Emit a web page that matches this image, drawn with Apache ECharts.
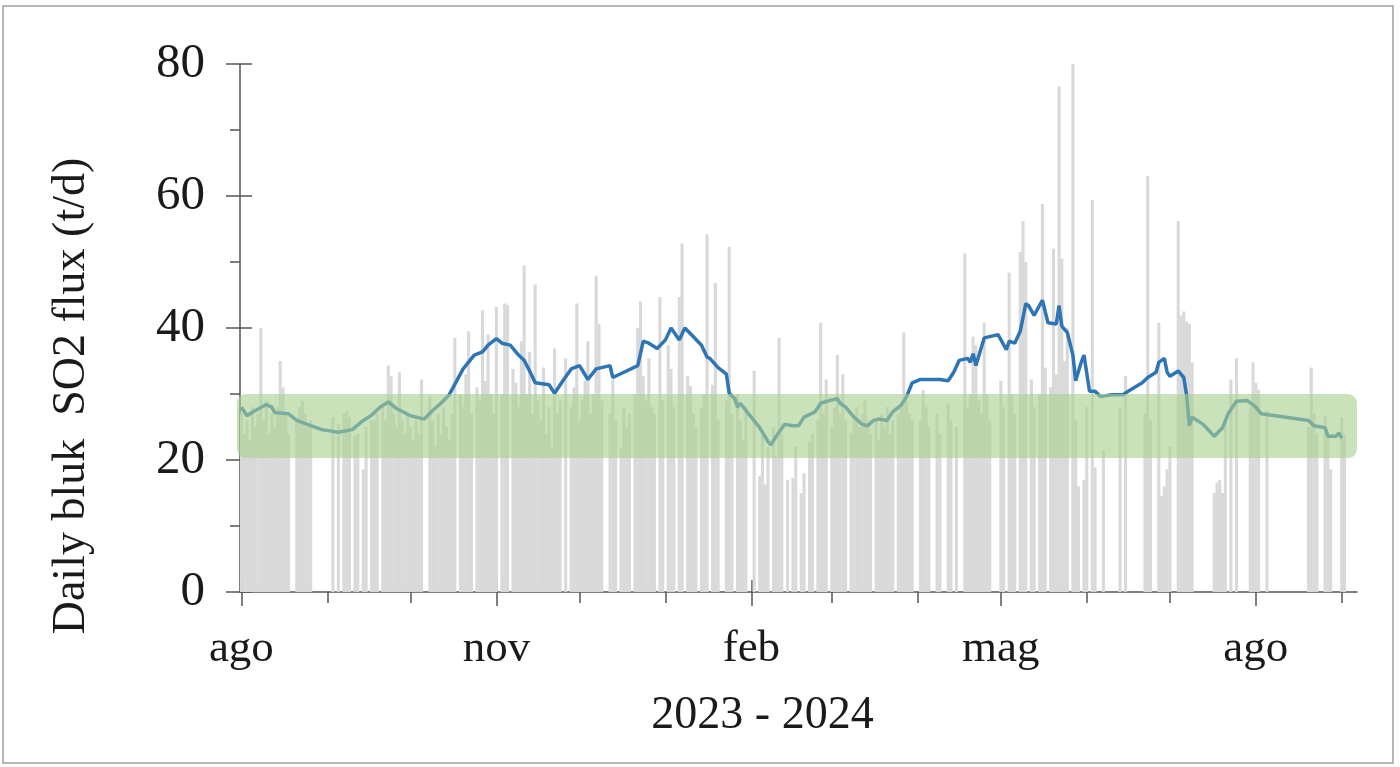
<!DOCTYPE html>
<html><head><meta charset="utf-8">
<script src="https://cdn.jsdelivr.net/npm/echarts@6/dist/echarts.min.js"></script>
<style>html,body{margin:0;padding:0;background:#fff}#c{width:1400px;height:767px}</style>
</head><body><div id="c"></div>
<script>
// Months covered (one category per day)
const monthKeys = ['2023-08','2023-09','2023-10','2023-11','2023-12','2024-01','2024-02','2024-03','2024-04','2024-05','2024-06','2024-07','2024-08','2024-09'];

// Daily SO2 flux (t/d); null = no measurement
const aug23 = [27,24,26,23,28,25,27,40,26,29,24,27,25,28,35,31,27,24,null,null,26,28,29,27,25,26,null,null,null,null,null];
const sep23 = [null,null,26.5,null,25.4,null,27,27.5,26.5,null,23.6,24,null,18.6,25,null,26,26,27,null,28,26,34.3,32.7,27,25,33.3,26,24,27];
const oct23 = [25,23,26,24,32.2,null,null,29.6,26,22,27,24,28,25,23,27,38.5,null,30,28,33,39.5,27,null,31,29,42.7,32,39,30,27];
const nov23 = [43.2,null,30,43.7,43.5,null,33.8,31.7,28,38,49.5,30,36.4,27,46.6,29,26,34,24,28,22,36.9,27,29,null,35.4,null,28,31,43.7];
const dec23 = [26,29,32,38,27,30,47.9,40.6,29,null,null,27,32.2,26,null,21.8,28,25,27,null,30,40,44,32.7,29,35.4,28,27,null,44.7,29];
const jan24 = [null,37.4,33.8,28,null,44.7,52.8,null,32.7,31.2,27,25,null,28,30,54.2,null,31.4,46.8,26,null,null,29,52.3,27,null,30,26,23,28,null];
const feb24 = [null,33.5,null,17.6,24,16.3,22,null,25,20.5,38.5,24,null,17,null,17.3,22,null,15,18,null,22.8,24,null,26,40.8,27,32.2,null];
const mar24 = [25,28,35.9,27,33,26,null,24,26,28,25,27,29,26,24,null,26,23,27,25,28,24,26,null,27,28,39.3,29,27,26,null];
const apr24 = [null,26,30.6,28,25,null,null,27,24,null,null,28.6,26,null,25,null,null,51.3,28,30,38.7,37.4,29,27,40.8,30,26,null,null,null];
const may24 = [32,28,null,48.4,30,27,null,51.5,56.2,50,null,32.2,28,null,30,58.8,34,null,31,52,33,76.6,50.5,35,40,null,80,26,16,null,17];
const jun24 = [28,null,59.4,18.9,null,null,21.5,null,null,null,null,null,28,null,32.7,null,null,null,null,null,null,27,63,26,null,null,40.8,14.5,16,18.6];
const jul24 = [22,null,null,56.2,41.9,42.5,41,40.6,34.8,null,null,null,null,null,null,null,15,16.6,17,15,26,null,32.2,null,35.4,null,null,null,null,28,34.8];
const aug24 = [31.7,30.6,null,null,27.5,null,null,null,null,null,null,null,null,null,null,null,null,null,null,25,34,27,24,null,null,26.7,24,18.6,null,null,null];
const sep24 = [26.5,24,null,null,null,null];
const monthValues = [aug23,sep23,oct23,nov23,dec23,jan24,feb24,mar24,apr24,may24,jun24,jul24,aug24,sep24];

// Running-mean trend: day offset from 2023-08-01 and value
const trendDay = [0,2,5,9,11,12,17,20,25,29,35,40,44,47,50,53,56,61,66,69,72,75,80,84,87,89,92,94,97,100,102,104,106,111,113,116,119,122,125,128,133,134,138,143,145,147,150,153,155,158,160,163,166,168,169,172,175,176,178,179,180,183,187,190,191,193,196,199,201,203,207,209,213,215,216,218,221,224,226,228,230,233,235,238,240,242,245,250,252,255,257,259,262,263,264,265,268,273,276,277,279,281,283,284,286,289,291,294,295,296,298,300,301,303,304,306,308,310,314,318,321,325,327,330,331,333,334,335,338,340,341,342,343,347,351,354,356,359,363,366,368,385,387,391,392,395,396,397];
const trendVal = [28.0,26.7,27.5,28.4,28,27.2,27,26,25.2,24.6,24.2,24.6,26,26.8,28,28.8,27.8,26.7,26.2,27.5,28.6,29.9,33.8,35.9,36.4,37.4,38.4,37.7,37.4,35.9,35.1,33.5,31.7,31.4,30.1,32,33.8,34.3,32.2,33.8,34.3,32.5,33.3,34.3,38,37.7,36.9,38.2,40,38.2,40,38.7,37.4,35.6,35.4,34,33,30.1,29.3,28,28.6,27,24.9,22.8,22.3,23.6,25.4,25.2,25.2,26.5,27.3,28.6,29.1,29.3,28.6,28,26.5,25.4,25.2,26,26.2,26,27.3,28.3,29.6,31.7,32.2,32.2,32.2,32,33.3,35.1,35.4,34.8,36.1,34.3,38.5,39,36.7,38,37.7,39.5,43.7,43.4,41.9,44.2,40.8,40.6,43.4,40.3,39.3,35.9,32,34.8,35.9,30.4,30.4,29.6,29.9,29.9,30.7,31.7,32.5,33.3,34.8,35.4,33.3,32.7,33.5,32.5,29.9,25.2,26.5,25.4,23.6,24.9,27,28.9,29,28,27,26,25.2,24.9,23.6,23.6,24.1,23.3];

// Reference band (t/d)
const bandLow = 20.3, bandHigh = 30;

// Axis labels
const labelMonths = ['2023-08','2023-11','2024-02','2024-05','2024-08'];
const labelTexts = ['ago','nov','feb','mag','ago'];

const categories = [], fluxData = [];
monthKeys.forEach((m, i) => {
  monthValues[i].forEach((v, j) => {
    categories.push(m + '-' + String(j + 1).padStart(2, '0'));
    fluxData.push(v);
  });
});
const trendData = trendDay.map((d, i) => [d, trendVal[i]]);

const FONT = 'Liberation Serif';
const isMonthStart = (idx, val) => val.slice(8) === '01';
const isQuarter = (idx, val) => val.slice(8) === '01' && labelMonths.indexOf(val.slice(0, 7)) >= 0;

const chart = echarts.init(document.getElementById('c'));
const baseX = {
  type: 'category', data: categories, boundaryGap: true, position: 'bottom',
  axisLine: { show: false }, axisLabel: { show: false }, splitLine: { show: false }
};
chart.setOption({
  animation: false,
  backgroundColor: '#fff',
  graphic: [{
    type: 'rect', shape: { x: 3, y: 6, width: 1390, height: 757 },
    style: { fill: 'none', stroke: '#a0a0a0', lineWidth: 1.5 }, silent: true, z: -10
  }],
  grid: { left: 240, right: 43, top: 64, bottom: 175, containLabel: false, outerBoundsMode: 'none' },
  xAxis: [
    Object.assign({}, baseX, {
      axisLine: { show: true, onZero: false, lineStyle: { color: '#555', width: 1.5 } },
      axisTick: { show: true, alignWithLabel: true, interval: isQuarter, length: 14, lineStyle: { color: '#555', width: 1.5 } },
      axisLabel: {
        show: true, interval: isQuarter, margin: 35,
        fontFamily: FONT, fontSize: 45, color: '#1a1a1a',
        formatter: v => labelTexts[labelMonths.indexOf(v.slice(0, 7))] || ''
      },
      name: '2023 - 2024', nameLocation: 'middle', nameGap: 101,
      nameTextStyle: { fontFamily: FONT, fontSize: 46, color: '#1a1a1a', padding: [0, 72, 0, 0] }
    }),
    Object.assign({}, baseX, {
      axisTick: { show: true, alignWithLabel: true, interval: isMonthStart, length: 11, lineStyle: { color: '#555', width: 1.5 } }
    }),
    Object.assign({}, baseX, {
      axisTick: { show: true, inside: true, alignWithLabel: true, interval: isQuarter, length: 12, lineStyle: { color: '#555', width: 1.5 } }
    })
  ],
  yAxis: [
    {
      type: 'value', min: 0, max: 80, interval: 20, position: 'left',
      axisLine: { show: true, lineStyle: { color: '#555', width: 1.5 } },
      axisTick: { show: true, length: 14, lineStyle: { color: '#555', width: 1.5 } },
      minorTick: { show: true, splitNumber: 2, length: 10, lineStyle: { color: '#555', width: 1.5 } },
      splitLine: { show: false },
      axisLabel: { margin: 35, fontFamily: FONT, fontSize: 49, color: '#1a1a1a' },
      name: 'Daily bluk  SO2 flux (t/d)', nameLocation: 'middle', nameRotate: 90, nameGap: 145,
      nameTextStyle: { fontFamily: FONT, fontSize: 46, color: '#1a1a1a', padding: [0, 136, 0, 0] }
    },
    {
      type: 'value', min: 0, max: 80, interval: 20, position: 'left',
      axisLine: { show: false },
      axisTick: { show: true, inside: true, length: 12, lineStyle: { color: '#555', width: 1.5 } },
      axisLabel: { show: false }, splitLine: { show: false }
    }
  ],
  series: [
    {
      type: 'bar', data: fluxData, xAxisIndex: 0, yAxisIndex: 0,
      barWidth: 3.1, itemStyle: { color: '#d9d9d9' }, z: 2, silent: true
    },
    {
      type: 'line', data: trendData, xAxisIndex: 0, yAxisIndex: 0,
      showSymbol: false, symbol: 'none', connectNulls: true,
      lineStyle: { color: '#2e75b6', width: 3.5 }, z: 3, silent: true
    },
    {
      type: 'custom', xAxisIndex: 0, yAxisIndex: 0, z: 5, silent: true, clip: false,
      data: [[0, categories.length - 1, bandLow, bandHigh]],
      encode: { x: [0, 1], y: [2, 3] },
      renderItem: (params, api) => {
        const a = api.coord([api.value(0), api.value(3)]);
        const b = api.coord([api.value(1), api.value(2)]);
        const half = api.size([1, 0])[0] / 2;
        return {
          type: 'rect',
          shape: { x: a[0] - half - 3, y: a[1], width: b[0] - a[0] + 2 * half + 3, height: b[1] - a[1], r: 9 },
          style: { fill: 'rgba(169,209,142,0.62)' }
        };
      }
    }
  ]
});
</script></body></html>
